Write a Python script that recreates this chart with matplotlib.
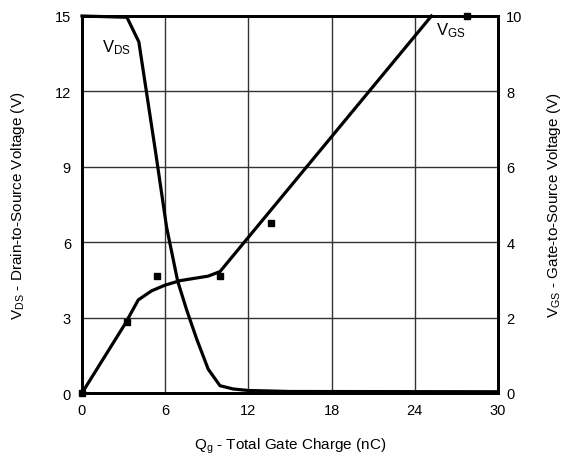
import matplotlib
matplotlib.use("Agg")
import matplotlib.pyplot as plt

plt.rcParams['font.family'] = ['Liberation Sans', 'DejaVu Sans']
plt.rcParams['mathtext.default'] = 'regular'

# Drain-to-source voltage vs gate charge (left axis)
qg_vds = [0, 3.24, 4.1, 5.33, 6.1, 6.9, 7.55, 8.27, 9.1, 9.95, 10.9, 12, 15, 30]
vds = [15.0, 14.95, 13.97, 9.5, 6.6, 4.45, 3.3, 2.15, 0.95, 0.29, 0.16, 0.1, 0.06, 0.05]

# Gate-to-source voltage vs gate charge (right axis)
qg_vgs = [0, 3.1, 4.06, 5.02, 5.98, 7.07, 9.1, 9.95, 25.2]
vgs = [0, 1.83, 2.47, 2.71, 2.86, 2.98, 3.1, 3.22, 10.0]

# Measured VGS points
qg_pts = [0, 3.24, 5.4, 9.95, 13.6, 27.8]
vgs_pts = [0, 1.88, 3.1, 3.1, 4.5, 10.0]

x_ticks = [0, 6, 12, 18, 24, 30]
vds_ticks = [0, 3, 6, 9, 12, 15]
vgs_ticks = [0, 2, 4, 6, 8, 10]

fig = plt.figure(figsize=(5.62, 4.6), dpi=100)
ax = fig.add_axes([82/562, 1-394/460, 416/562, 377/460])
ax2 = ax.twinx()

ax.set_xlim(0, 30)
ax.set_ylim(0, 15)
ax2.set_ylim(0, 10)
ax.set_xticks(x_ticks)
ax.set_yticks(vds_ticks)
ax2.set_yticks(vgs_ticks)

ax.grid(True, color='#333333', linewidth=1.0)
ax.set_axisbelow(True)

ax.plot(qg_vds, vds, color='black', linewidth=2.3, solid_joinstyle='round', clip_on=False, zorder=3)
ax2.plot(qg_vgs, vgs, color='black', linewidth=2.3, solid_joinstyle='round', clip_on=False, zorder=3)
ax2.plot(qg_pts, vgs_pts, linestyle='none', marker='s', markersize=4.5, color='black', clip_on=False, zorder=4)

for a in (ax, ax2):
    for s in a.spines.values():
        s.set_linewidth(2.0)
        s.set_color('black')
    a.tick_params(length=0, labelsize=10.5)
ax.tick_params(axis='y', pad=8)
ax.tick_params(axis='x', pad=7)
ax2.tick_params(axis='y', pad=6)

ax.set_xlabel('$Q_g$ - Total Gate Charge (nC)', fontsize=11, labelpad=14)
ax.set_ylabel('$V_{DS}$ - Drain-to-Source Voltage (V)', fontsize=11, labelpad=20)
ax2.set_ylabel('$V_{GS}$ - Gate-to-Source Voltage (V)', fontsize=11, labelpad=16)

ax.text(2.5, 13.77, '$V_{DS}$', fontsize=12, ha='center', va='center')
ax.text(26.6, 14.45, '$V_{GS}$', fontsize=12, ha='center', va='center')

fig.savefig('out.png', dpi=100)
